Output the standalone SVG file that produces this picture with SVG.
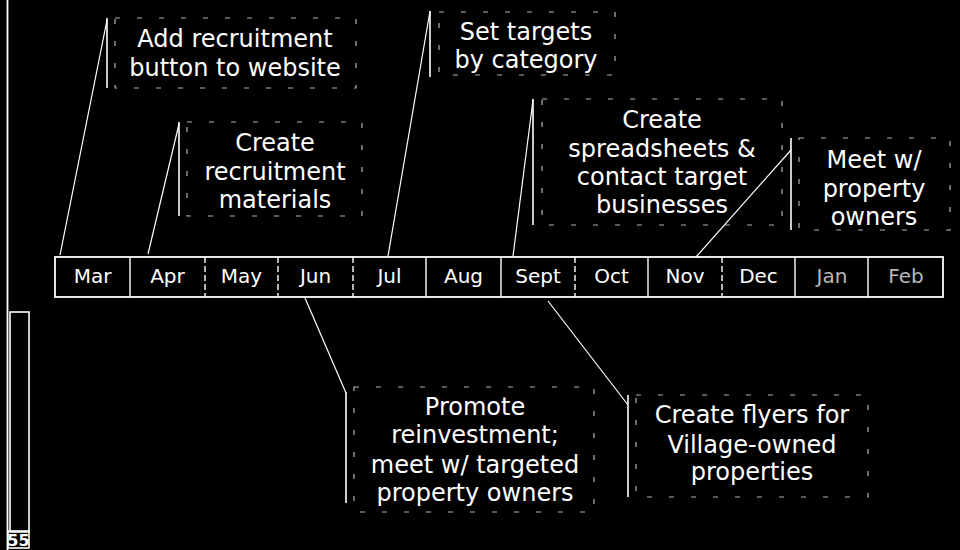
<svg xmlns="http://www.w3.org/2000/svg" width="960" height="550" viewBox="0 0 960 550">
<style>
  .bg { fill: #000; }
  .txt { font-family: "DejaVu Sans", Verdana, sans-serif; font-size: 24px; fill: #fff; text-anchor: middle; }
  .mon { font-family: "DejaVu Sans", Verdana, sans-serif; font-size: 20px; fill: #fff; text-anchor: middle; }
  .faintmon { fill: #b8b8b8; }
  .bar { stroke: #fff; stroke-width: 1.6; fill: none; }
  .frame { stroke: #fff; stroke-width: 1.2; fill: none; stroke-dasharray: 5 17; opacity: 0.7; }
  .conn { stroke: #fff; stroke-width: 1.2; fill: none; }
  .cell { stroke: #fff; stroke-width: 1.8; fill: none; }
  .div { stroke: #fff; stroke-width: 1.4; }
  .dashdiv { stroke: #fff; stroke-width: 1.4; stroke-dasharray: 6 3; }
</style>
<rect class="bg" x="0" y="0" width="960" height="550"/>

<!-- page edge and margin strip -->
<g id="margin">
  <line x1="7.5" y1="0" x2="7.5" y2="550" stroke="#fff" stroke-width="1.8"/>
  <rect x="10" y="312" width="19" height="220" fill="none" stroke="#fff" stroke-width="1.6"/>
  <rect x="8" y="531" width="21" height="17" fill="none" stroke="#fff" stroke-width="1.6"/>
  <text x="18.5" y="546" font-family="'DejaVu Sans', sans-serif" font-size="16" font-weight="bold" fill="#fff" text-anchor="middle">55</text>
</g>

<!-- timeline -->
<g id="timeline">
  <rect class="cell" x="55" y="257" width="888" height="40"/>
  <line class="div" x1="130" y1="257" x2="130" y2="297"/>
  <line class="dashdiv" x1="205" y1="257" x2="205" y2="297"/>
  <line class="dashdiv" x1="278" y1="257" x2="278" y2="297"/>
  <line class="dashdiv" x1="353" y1="257" x2="353" y2="297"/>
  <line class="div" x1="426" y1="257" x2="426" y2="297"/>
  <line class="div" x1="501" y1="257" x2="501" y2="297"/>
  <line class="dashdiv" x1="575" y1="257" x2="575" y2="297"/>
  <line class="div" x1="648" y1="257" x2="648" y2="297"/>
  <line class="dashdiv" x1="722" y1="257" x2="722" y2="297"/>
  <line class="div" x1="795" y1="257" x2="795" y2="297"/>
  <line class="div" x1="868" y1="257" x2="868" y2="297"/>
  <text class="mon" x="92.5" y="283">Mar</text>
  <text class="mon" x="167.5" y="283">Apr</text>
  <text class="mon" x="241.5" y="283">May</text>
  <text class="mon" x="315.5" y="283">Jun</text>
  <text class="mon" x="389.5" y="283">Jul</text>
  <text class="mon" x="463.5" y="283">Aug</text>
  <text class="mon" x="538" y="283">Sept</text>
  <text class="mon" x="611.5" y="283">Oct</text>
  <text class="mon" x="685" y="283">Nov</text>
  <text class="mon" x="758.5" y="283">Dec</text>
  <text class="mon faintmon" x="832" y="283">Jan</text>
  <text class="mon faintmon" x="906" y="283">Feb</text>
</g>

<!-- connectors -->
<g id="connectors">
  <line class="conn" x1="107" y1="20" x2="60" y2="255"/>
  <line class="conn" x1="179" y1="124" x2="148" y2="254"/>
  <line class="conn" x1="430" y1="11" x2="388" y2="256"/>
  <line class="conn" x1="533" y1="100" x2="513" y2="256"/>
  <line class="conn" x1="791" y1="150" x2="696" y2="257"/>
  <line class="conn" x1="305" y1="298" x2="346" y2="393"/>
  <line class="conn" x1="548" y1="301" x2="628" y2="405"/>
</g>

<g id="node-website">
  <line class="bar" x1="107" y1="18" x2="107" y2="88"/>
  <rect class="frame" x="115" y="18" width="241" height="70"/>
  <text class="txt" x="235" y="47">Add recruitment</text>
  <text class="txt" x="235" y="76">button to website</text>
</g>

<g id="node-materials">
  <line class="bar" x1="179" y1="122" x2="179" y2="216"/>
  <rect class="frame" x="187" y="122" width="175" height="94"/>
  <text class="txt" x="275" y="151">Create</text>
  <text class="txt" x="275" y="180">recruitment</text>
  <text class="txt" x="275" y="208">materials</text>
</g>

<g id="node-targets">
  <line class="bar" x1="430" y1="11" x2="430" y2="77"/>
  <rect class="frame" x="439" y="12" width="176" height="63"/>
  <text class="txt" x="526" y="40">Set targets</text>
  <text class="txt" x="526" y="68">by category</text>
</g>

<g id="node-spreadsheets">
  <line class="bar" x1="533" y1="99" x2="533" y2="225"/>
  <rect class="frame" x="542" y="99" width="240" height="126"/>
  <text class="txt" x="662" y="128">Create</text>
  <text class="txt" x="662" y="157">spreadsheets &amp;</text>
  <text class="txt" x="662" y="185">contact target</text>
  <text class="txt" x="662" y="213">businesses</text>
</g>

<g id="node-owners">
  <line class="bar" x1="791" y1="138" x2="791" y2="230"/>
  <rect class="frame" x="799" y="138" width="151" height="92"/>
  <text class="txt" x="874" y="168">Meet w/</text>
  <text class="txt" x="874" y="197">property</text>
  <text class="txt" x="874" y="225">owners</text>
</g>

<g id="node-reinvestment">
  <line class="bar" x1="346" y1="392" x2="346" y2="503"/>
  <rect class="frame" x="354" y="387" width="240" height="125"/>
  <text class="txt" x="475" y="415">Promote</text>
  <text class="txt" x="475" y="443">reinvestment;</text>
  <text class="txt" x="475" y="473">meet w/ targeted</text>
  <text class="txt" x="475" y="501">property owners</text>
</g>

<g id="node-flyers">
  <line class="bar" x1="628" y1="395" x2="628" y2="497"/>
  <rect class="frame" x="636" y="395" width="232" height="102"/>
  <text class="txt" x="752" y="423">Create flyers for</text>
  <text class="txt" x="752" y="453">Village-owned</text>
  <text class="txt" x="752" y="480">properties</text>
</g>
</svg>
